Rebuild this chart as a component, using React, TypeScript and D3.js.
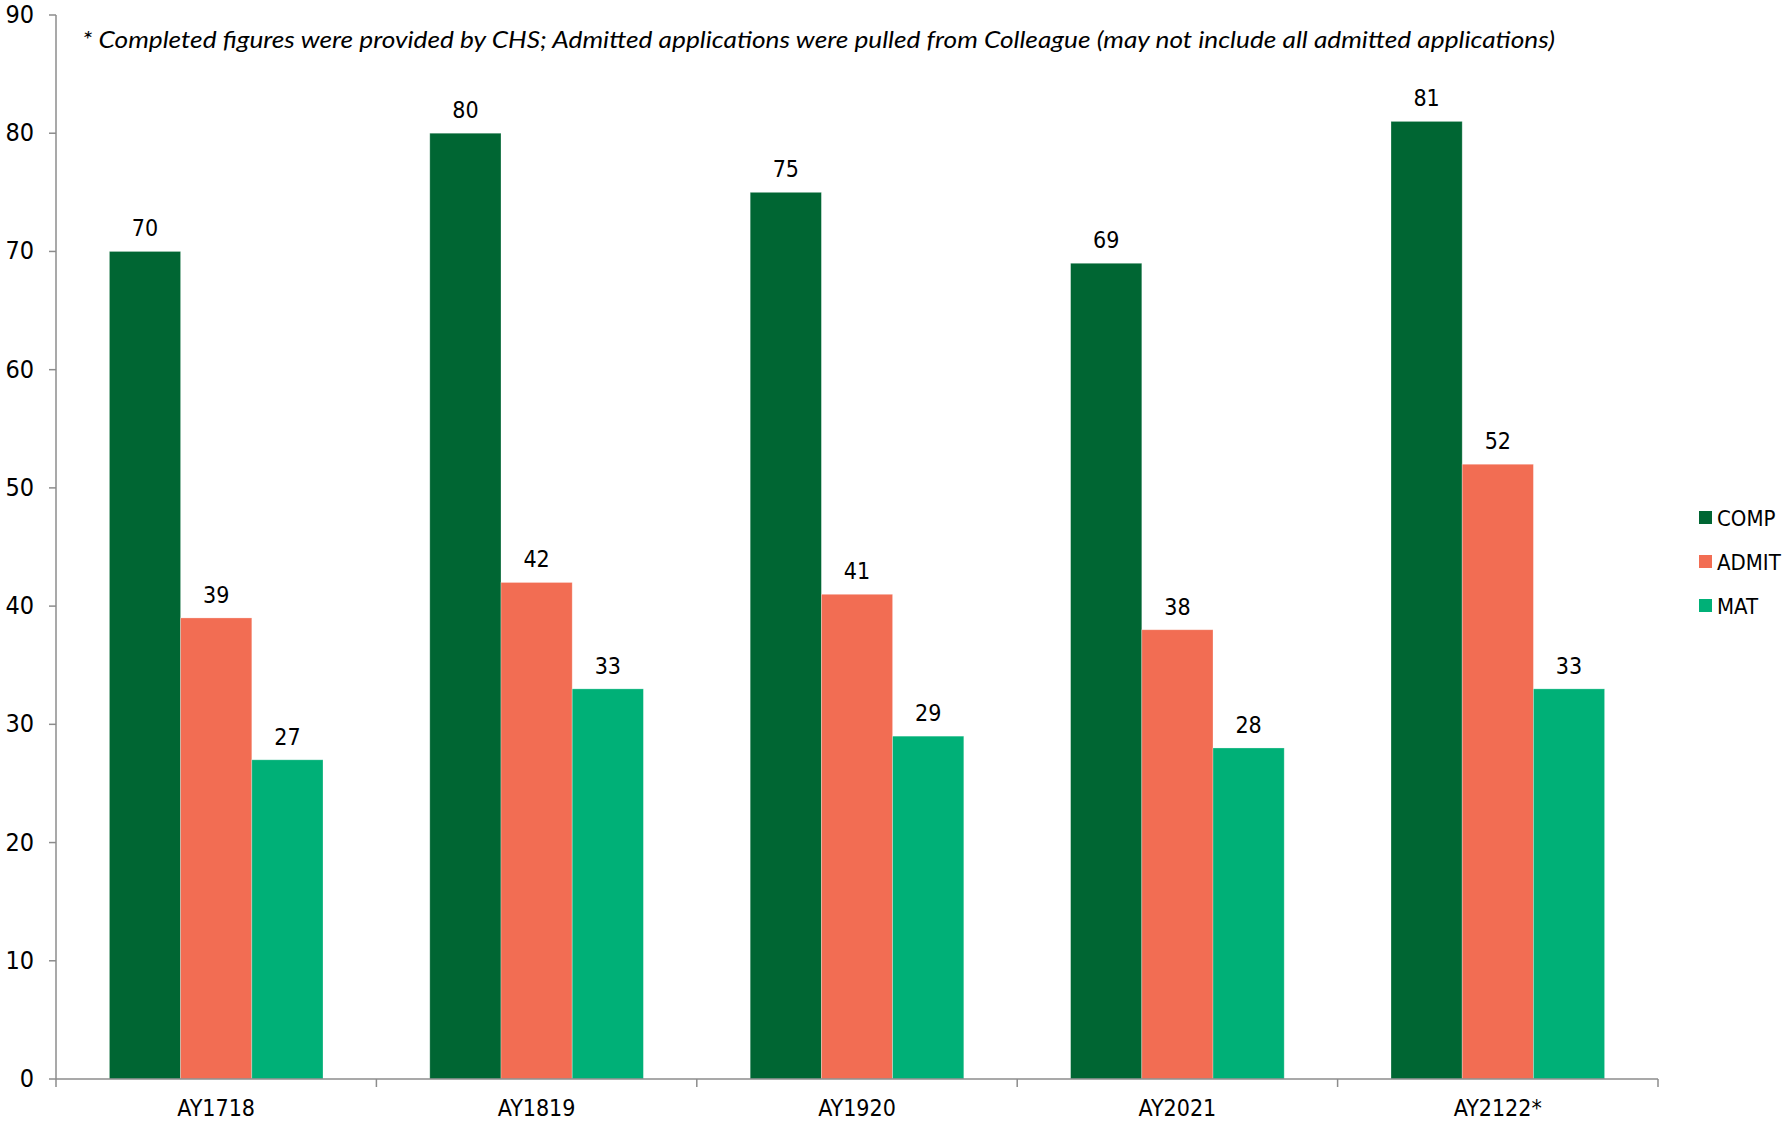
import React from 'react';
import * as d3 from 'd3';

const categories = ["AY1718", "AY1819", "AY1920", "AY2021", "AY2122*"];
const seriesNames = ["COMP", "ADMIT", "MAT"];
const compValues = [70, 80, 75, 69, 81];
const admitValues = [39, 42, 41, 38, 52];
const matValues = [27, 33, 29, 28, 33];
const yTickValues = [0, 10, 20, 30, 40, 50, 60, 70, 80, 90];
const note = "* Completed figures were provided by CHS; Admitted applications were pulled from Colleague (may not include all admitted applications)";

const width = 1784;
const height = 1136;
const marginLeft = 56;
const marginTop = 15;
const boundedWidth = 1658 - marginLeft;
const boundedHeight = 1079 - marginTop;
const colors = ["#006633", "#F26D53", "#00B077"];
const axisColor = "#8c8c8c";
const labelFont = "'Liberation Sans Narrow', 'DejaVu Sans Condensed', sans-serif";

const App: React.FC = () => {
  const series = [compValues, admitValues, matValues];

  const xScale = d3.scaleBand<string>().domain(categories)
    .range([0, boundedWidth])
    .paddingInner(1 / 3)
    .paddingOuter(1 / 6);
  const subScale = d3.scaleBand<string>().domain(seriesNames)
    .range([0, xScale.bandwidth()]);
  const yScale = d3.scaleLinear().domain([0, 90]).range([boundedHeight, 0]);
  const step = xScale.step();

  return (
    <div style={{position: "absolute", left: 0, top: 0}}>
      <svg width={width} height={height} style={{display: "block", background: "white"}}>
        <text x={82} y={48} fontFamily="Lato, 'Open Sans', sans-serif" fontStyle="italic" fontSize={23}
          textLength={1473} lengthAdjust="spacingAndGlyphs" fill="black">{note}</text>
        <g transform={`translate(${marginLeft}, ${marginTop})`}>
          {/* bars */}
          {series.map((values, si) => (
            <g key={seriesNames[si]}>
              {values.map((v, i) => {
                const x = (xScale(categories[i]) as number) + (subScale(seriesNames[si]) as number);
                return (
                  <g key={i}>
                    <rect x={x} y={yScale(v)} width={subScale.bandwidth()} height={boundedHeight - yScale(v)}
                      fill={colors[si]} stroke="white" strokeOpacity={0.35} strokeWidth={0.8}/>
                    <text x={x + subScale.bandwidth() / 2} y={yScale(v) - 15} textAnchor="middle"
                      fontFamily={labelFont} fontSize={23} fill="black">{v}</text>
                  </g>
                );
              })}
            </g>
          ))}
          {/* y axis */}
          <line x1={0} x2={0} y1={0} y2={boundedHeight} stroke={axisColor} strokeWidth={1.5}/>
          {yTickValues.map(value => (
            <g key={value} transform={`translate(0, ${yScale(value)})`}>
              <line x1={-7} x2={0} stroke={axisColor} strokeWidth={1.5}/>
              <text x={-22} y={8} textAnchor="end" fontFamily={labelFont} fontSize={25} fill="black">{value}</text>
            </g>
          ))}
          {/* x axis */}
          <g transform={`translate(0, ${boundedHeight})`}>
            <line x1={0} x2={boundedWidth} stroke={axisColor} strokeWidth={1.5}/>
            {d3.range(categories.length + 1).map(i => (
              <line key={i} x1={i * step} x2={i * step} y1={0} y2={8} stroke={axisColor} strokeWidth={1.5}/>
            ))}
            {categories.map(c => (
              <text key={c} x={(xScale(c) as number) + xScale.bandwidth() / 2} y={37} textAnchor="middle"
                fontFamily={labelFont} fontSize={23} fill="black">{c}</text>
            ))}
          </g>
        </g>
        {/* legend */}
        {seriesNames.map((name, i) => (
          <g key={name} transform={`translate(1699, ${518 + i * 44})`}>
            <rect x={0} y={-7} width={13} height={13} fill={colors[i]}/>
            <text x={18} y={8} fontFamily={labelFont} fontSize={22} fill="black">{name}</text>
          </g>
        ))}
      </svg>
    </div>
  );
};

export default App;
